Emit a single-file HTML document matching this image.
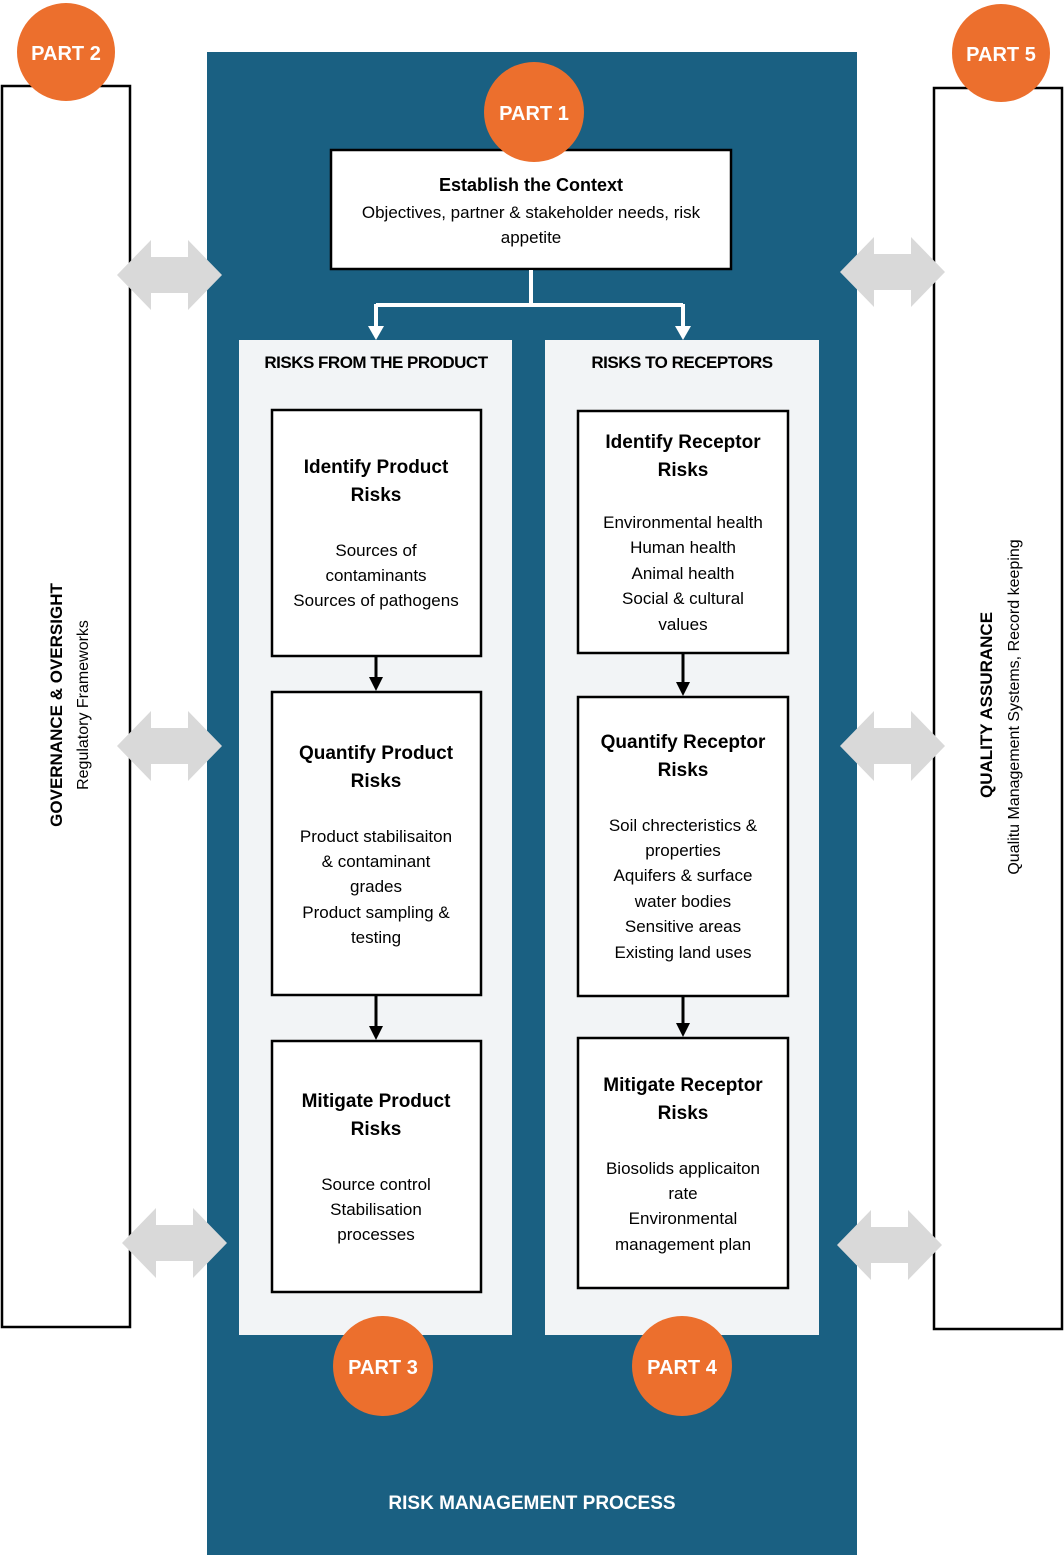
<!DOCTYPE html>
<html><head><meta charset="utf-8"><style>
body{margin:0;background:#fff}
svg{display:block}
text{font-family:"Liberation Sans",sans-serif}
</style></head><body>
<svg width="1064" height="1555" viewBox="0 0 1064 1555" xmlns="http://www.w3.org/2000/svg">
<defs>
<g id="darr"><polygon points="0,35 34,0 34,17 71,17 71,0 105,35 71,70 71,53 34,53 34,70" fill="#d9d9d9"/></g>
</defs>
<rect x="207" y="52" width="650" height="1503" fill="#1a6082"/>
<!-- side boxes -->
<rect x="2" y="86" width="128" height="1241" fill="#fff" stroke="#000" stroke-width="2.5"/>
<rect x="934" y="88" width="128" height="1241" fill="#fff" stroke="#000" stroke-width="2.5"/>
<circle cx="66" cy="52" r="49" fill="#ec6f2d"/>
<text x="66" y="60" text-anchor="middle" font-size="20" font-weight="bold" fill="#fff">PART 2</text>
<circle cx="1001" cy="53" r="49" fill="#ec6f2d"/>
<text x="1001" y="61" text-anchor="middle" font-size="20" font-weight="bold" fill="#fff">PART 5</text>
<text transform="translate(62,705) rotate(-90)" text-anchor="middle" font-size="17" font-weight="bold">GOVERNANCE &amp; OVERSIGHT</text>
<text transform="translate(88,705) rotate(-90)" text-anchor="middle" font-size="16">Regulatory Frameworks</text>
<text transform="translate(992,705) rotate(-90)" text-anchor="middle" font-size="17" font-weight="bold">QUALITY ASSURANCE</text>
<text transform="translate(1019,707) rotate(-90)" text-anchor="middle" font-size="16">Qualitu Management Systems, Record keeping</text>
<!-- double arrows -->
<use href="#darr" x="117" y="240"/>
<use href="#darr" x="117" y="711"/>
<use href="#darr" x="122" y="1208"/>
<use href="#darr" x="840" y="237"/>
<use href="#darr" x="840" y="711"/>
<use href="#darr" x="837" y="1210"/>
<!-- context -->
<rect x="331" y="150" width="400" height="119" fill="#fff" stroke="#000" stroke-width="2.5"/>
<circle cx="534" cy="112" r="50" fill="#ec6f2d"/>
<text x="534" y="120" text-anchor="middle" font-size="20" font-weight="bold" fill="#fff">PART 1</text>
<text x="531" y="191" text-anchor="middle" font-size="18" font-weight="bold">Establish the Context</text>
<text x="531" y="218" text-anchor="middle" font-size="17">Objectives, partner &amp; stakeholder needs, risk</text>
<text x="531" y="243" text-anchor="middle" font-size="17">appetite</text>
<!-- connector -->
<path d="M531 270 V305 M376 305 H683 M376 304 V330 M683 304 V330" stroke="#fff" stroke-width="4" fill="none"/>
<polygon points="368,326 384,326 376,340" fill="#fff"/>
<polygon points="675,326 691,326 683,340" fill="#fff"/>
<!-- panels -->
<rect x="239" y="340" width="273" height="995" fill="#f2f4f6"/>
<rect x="545" y="340" width="274" height="995" fill="#f2f4f6"/>
<text x="376" y="368" text-anchor="middle" font-size="17" font-weight="bold" letter-spacing="-0.5">RISKS FROM THE PRODUCT</text>
<text x="682" y="368" text-anchor="middle" font-size="17" font-weight="bold" letter-spacing="-0.5">RISKS TO RECEPTORS</text>
<g fill="#fff" stroke="#000" stroke-width="2.5">
<rect x="272" y="410" width="209" height="246"/>
<rect x="272" y="692" width="209" height="303"/>
<rect x="272" y="1041" width="209" height="251"/>
<rect x="578" y="411" width="210" height="242"/>
<rect x="578" y="697" width="210" height="299"/>
<rect x="578" y="1038" width="210" height="250"/>
</g>
<g stroke="#000" stroke-width="3">
<line x1="376" y1="656" x2="376" y2="680"/><line x1="376" y1="995" x2="376" y2="1029"/>
<line x1="683" y1="653" x2="683" y2="685"/><line x1="683" y1="996" x2="683" y2="1026"/>
</g>
<g fill="#000">
<polygon points="369,677 383,677 376,691"/><polygon points="369,1026 383,1026 376,1040"/>
<polygon points="676,682 690,682 683,696"/><polygon points="676,1023 690,1023 683,1037"/>
</g>
<g text-anchor="middle" font-size="17">
<g font-weight="bold" font-size="19">
<text x="376" y="473">Identify Product</text><text x="376" y="501">Risks</text>
<text x="376" y="759">Quantify Product</text><text x="376" y="787">Risks</text>
<text x="376" y="1107">Mitigate Product</text><text x="376" y="1135">Risks</text>
<text x="683" y="448">Identify Receptor</text><text x="683" y="476">Risks</text>
<text x="683" y="748">Quantify Receptor</text><text x="683" y="776">Risks</text>
<text x="683" y="1091">Mitigate Receptor</text><text x="683" y="1119">Risks</text>
</g>
<text x="376" y="556">Sources of</text><text x="376" y="581">contaminants</text><text x="376" y="606">Sources of pathogens</text>
<text x="376" y="842">Product stabilisaiton</text><text x="376" y="867">&amp; contaminant</text><text x="376" y="892">grades</text><text x="376" y="918">Product sampling &amp;</text><text x="376" y="943">testing</text>
<text x="376" y="1190">Source control</text><text x="376" y="1215">Stabilisation</text><text x="376" y="1240">processes</text>
<text x="683" y="528">Environmental health</text><text x="683" y="553">Human health</text><text x="683" y="579">Animal health</text><text x="683" y="604">Social &amp; cultural</text><text x="683" y="630">values</text>
<text x="683" y="831">Soil chrecteristics &amp;</text><text x="683" y="856">properties</text><text x="683" y="881">Aquifers &amp; surface</text><text x="683" y="907">water bodies</text><text x="683" y="932">Sensitive areas</text><text x="683" y="958">Existing land uses</text>
<text x="683" y="1174">Biosolids applicaiton</text><text x="683" y="1199">rate</text><text x="683" y="1224">Environmental</text><text x="683" y="1250">management plan</text>
</g>
<circle cx="383" cy="1366" r="50" fill="#ec6f2d"/>
<text x="383" y="1374" text-anchor="middle" font-size="20" font-weight="bold" fill="#fff">PART 3</text>
<circle cx="682" cy="1366" r="50" fill="#ec6f2d"/>
<text x="682" y="1374" text-anchor="middle" font-size="20" font-weight="bold" fill="#fff">PART 4</text>
<text x="532" y="1509" text-anchor="middle" font-size="19" font-weight="bold" fill="#fff">RISK MANAGEMENT PROCESS</text>
</svg>
</body></html>
